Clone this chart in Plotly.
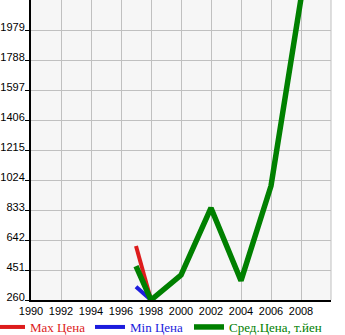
import plotly.graph_objects as go

years_max = [1997, 1998]
max_price = [604, 260]
years_min = [1997, 1998]
min_price = [345, 260]
years_avg = [1997, 1998, 2000, 2002, 2004, 2006, 2008]
avg_price = [476, 260, 419, 846, 383, 986, 2180]

x_ticks = [1990, 1992, 1994, 1996, 1998, 2000, 2002, 2004, 2006, 2008]
y_ticks = [260, 451, 642, 833, 1024, 1215, 1406, 1597, 1788, 1979]

RED = "#dd1c1c"
BLUE = "#1c1cdd"
GREEN = "#008000"

fig = go.Figure()
fig.add_trace(go.Scatter(x=years_max, y=max_price, mode="lines",
                         line=dict(color=RED, width=4), legend="legend",
                         name=f"<span style='color:{RED}'>Max Цена</span>"))
fig.add_trace(go.Scatter(x=years_min, y=min_price, mode="lines",
                         line=dict(color=BLUE, width=4), legend="legend2",
                         name=f"<span style='color:{BLUE}'>Min Цена</span>"))
fig.add_trace(go.Scatter(x=years_avg, y=avg_price, mode="lines",
                         line=dict(color=GREEN, width=5.5), legend="legend3",
                         name=f"<span style='color:{GREEN}'>Сред.Цена, т.йен</span>"))

tick_font = dict(family="Liberation Sans, Arial, sans-serif", size=11, color="black")

PLOT_W = 300.0
PLOT_L = 31.0
LEG_Y = -27 / 300.0


def leg(text_px):
    return dict(orientation="h", xref="paper", yref="paper",
                x=(text_px - 40 - PLOT_L) / PLOT_W, xanchor="left",
                y=LEG_Y, yanchor="middle",
                font=dict(size=13), bgcolor="rgba(0,0,0,0)", borderwidth=0)


fig.update_layout(
    width=345, height=335,
    margin=dict(l=31, r=14, t=0, b=35, autoexpand=False),
    paper_bgcolor="white",
    plot_bgcolor="#f6f6f6",
    font=dict(family="Liberation Serif, Times New Roman, serif", size=13, color="black"),
    showlegend=True,
    legend=leg(30),
    legend2=leg(130),
    legend3=leg(229),
)
fig.update_xaxes(range=[1990, 2010], tickvals=x_ticks, ticktext=[str(v) for v in x_ticks],
                 tickfont=tick_font,
                 showgrid=True, gridcolor="#c0c0c0", gridwidth=1,
                 showline=True, linecolor="black", linewidth=2,
                 ticks="", zeroline=False, fixedrange=True)
fig.update_yaxes(range=[260, 2170], tickvals=y_ticks, ticktext=[str(v) for v in y_ticks],
                 tickfont=tick_font, ticklabelshift=-3, ticklabelstandoff=-2,
                 showgrid=True, gridcolor="#c0c0c0", gridwidth=1,
                 showline=True, linecolor="black", linewidth=2,
                 ticks="outside", ticklen=4, tickcolor="black", tickwidth=1,
                 zeroline=False, fixedrange=True)
fig.add_shape(type="line", xref="paper", yref="paper", x0=1, x1=1, y0=0, y1=1,
              line=dict(color="#c0c0c0", width=1))

fig.write_html("out.html")
